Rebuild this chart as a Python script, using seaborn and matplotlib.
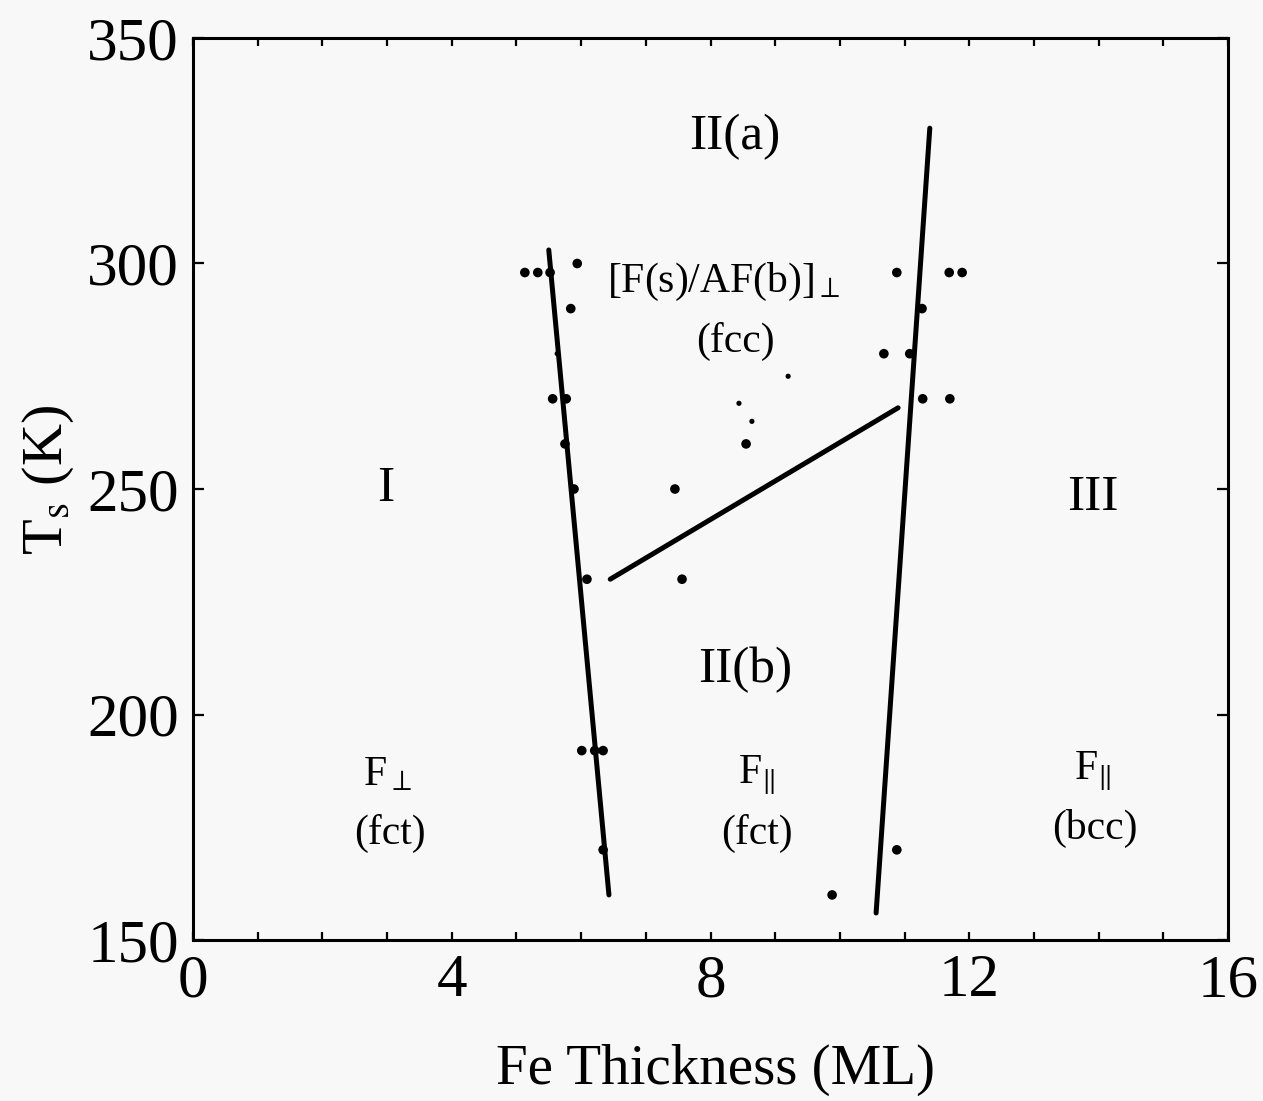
import numpy as np
import pandas as pd
import matplotlib
matplotlib.use("Agg")
import matplotlib.pyplot as plt
import seaborn as sns
from matplotlib.ticker import MultipleLocator

# ---- data ----
# phase boundary lines (Fe thickness ML, Ts K)
b1_x = [5.50, 6.43]
b1_t = [303, 160]
b2_x = [10.56, 11.39]
b2_t = [156, 330]
b3_x = [6.45, 10.90]
b3_t = [230, 268]

# measured points
pts_x = [5.13, 5.33, 5.52, 5.94, 5.84, 5.56, 5.77, 5.75, 5.89, 6.09, 7.45,
         6.01, 6.21, 6.34, 6.34, 8.55, 7.56,
         10.88, 11.69, 11.89, 11.27, 10.68, 11.08, 11.28, 11.70,
         10.88, 9.88]
pts_t = [298, 298, 298, 300, 290, 270, 270, 260, 250, 230, 250,
         192, 192, 192, 170, 260, 230,
         298, 298, 298, 290, 280, 280, 270, 270,
         170, 160]
small_x = [5.63, 9.20, 8.44, 8.64]
small_t = [280, 275, 269, 265]

x_ticks = [0, 4, 8, 12, 16]
y_ticks = [150, 200, 250, 300, 350]

# ---- build frames ----
lines = pd.DataFrame({
    "x": b1_x + b2_x + b3_x,
    "t": b1_t + b2_t + b3_t,
    "seg": ["b1"] * 2 + ["b2"] * 2 + ["b3"] * 2,
})
pts = pd.DataFrame({"x": pts_x, "t": pts_t})
smalls = pd.DataFrame({"x": small_x, "t": small_t})

sns.set_theme(style="ticks")
plt.rcParams["font.family"] = ["Liberation Serif", "DejaVu Serif"]
plt.rcParams["mathtext.fontset"] = "stix"
for k in ["text.color", "axes.labelcolor", "xtick.color", "ytick.color",
          "axes.edgecolor"]:
    plt.rcParams[k] = "black"

fig = plt.figure(figsize=(12.63, 11.01), dpi=100)
fig.patch.set_facecolor("#f8f8f8")
ax = fig.add_axes([0.1528, 0.1462, 0.8195, 0.8193])
ax.set_facecolor("#f8f8f8")

sns.lineplot(data=lines, x="x", y="t", units="seg", estimator=None,
             color="black", lw=3.6, ax=ax, sort=False)
sns.scatterplot(data=pts, x="x", y="t", color="black", s=48, ax=ax,
                edgecolor="none")
sns.scatterplot(data=smalls, x="x", y="t", color="black", s=14, ax=ax,
                edgecolor="none")

ax.set_xlim(0, 16)
ax.set_ylim(150, 350)
ax.set_xticks(x_ticks)
ax.set_yticks(y_ticks)
ax.xaxis.set_minor_locator(MultipleLocator(1))
ax.tick_params(axis="x", which="both", direction="in", top=True, bottom=True,
               length=6, width=1.6, labelsize=44, pad=10)
ax.tick_params(axis="y", which="both", direction="in", left=True, right=True,
               length=8, width=1.6, labelsize=44, pad=10)
for s in ax.spines.values():
    s.set_linewidth(2.2)
    s.set_color("black")

ax.set_xlabel("Fe Thickness (ML)", fontsize=41)
ax.set_ylabel(r"T$_\mathrm{s}$ (K)", fontsize=42)
ax.xaxis.set_label_coords(0.505, -0.115)
ax.yaxis.set_label_coords(-0.113, 0.51)

big = 37
sm = 30
ax.text(8.38, 328, "II(a)", fontsize=big, ha="center", va="center")
ax.text(8.53, 210, "II(b)", fontsize=big, ha="center", va="center")
ax.text(2.98, 250, "I", fontsize=big, ha="center", va="center")
ax.text(13.91, 248, "III", fontsize=big, ha="center", va="center")
ax.text(8.2, 296, r"[F(s)/AF(b)]$_\perp$", fontsize=sm, ha="center", va="center")
ax.text(8.38, 282.6, "(fcc)", fontsize=sm, ha="center", va="center")
ax.text(3.0, 186.6, r"F$_\perp$", fontsize=sm, ha="center", va="center")
ax.text(3.05, 173.7, "(fct)", fontsize=sm, ha="center", va="center")
ax.text(8.72, 186.6, r"F$_\Vert$", fontsize=sm, ha="center", va="center")
ax.text(8.72, 173.7, "(fct)", fontsize=sm, ha="center", va="center")
ax.text(13.9, 187.5, r"F$_\Vert$", fontsize=sm, ha="center", va="center")
ax.text(13.94, 174.8, "(bcc)", fontsize=sm, ha="center", va="center")

fig.savefig("out.png", dpi=100, facecolor=fig.get_facecolor())
